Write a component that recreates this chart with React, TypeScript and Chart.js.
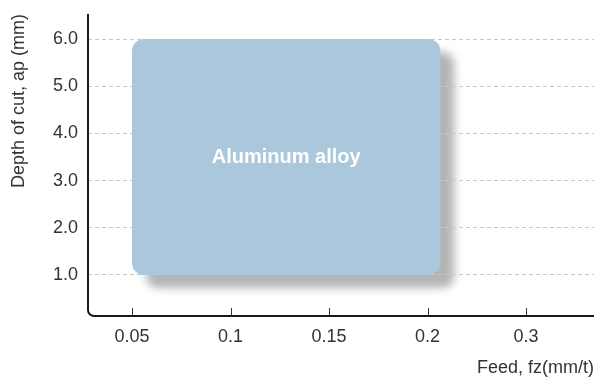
import React, { useEffect, useRef } from 'react';
import { Chart, registerables } from 'chart.js';

Chart.register(...registerables);

// ---- data ----
const feedTicks = [0.05, 0.1, 0.15, 0.2, 0.3];
const depthTicks = [1, 2, 3, 4, 5, 6];
const regionName = 'Aluminum alloy';
const regionFeed = [0.05, 0.213];
const regionDepth = [1.0, 6.0];
const xTitle = 'Feed, fz(mm/t)';
const yTitle = 'Depth of cut, ap (mm)';

const FONT = "'Liberation Sans', Arial, Helvetica, sans-serif";

// feed axis labels are evenly spaced: map a feed value onto the label index
function feedToIndex(v: number): number {
  for (let i = 0; i < feedTicks.length - 1; i++) {
    const a = feedTicks[i];
    const b = feedTicks[i + 1];
    if (v <= b || i === feedTicks.length - 2) {
      return i + (v - a) / (b - a);
    }
  }
  return 0;
}

function regionRect(chart: any) {
  const meta = chart.getDatasetMeta(0);
  const p0 = meta.data[0];
  const p1 = meta.data[1];
  const x = Math.min(p0.x, p1.x);
  const y = Math.min(p0.y, p1.y);
  return { x, y, w: Math.abs(p1.x - p0.x), h: Math.abs(p1.y - p0.y) };
}

const regionPlugin = {
  id: 'regionPlugin',
  beforeDraw(chart: any) {
    const ctx = chart.ctx;
    const r = regionRect(chart);
    ctx.save();
    ctx.filter = 'blur(4px)';
    ctx.fillStyle = '#b4b4b4';
    ctx.beginPath();
    ctx.roundRect(r.x + 14, r.y + 13, r.w, r.h, 12);
    ctx.fill();
    ctx.restore();
  },
  beforeDatasetsDraw(chart: any) {
    const ctx = chart.ctx;
    const r = regionRect(chart);
    ctx.save();
    ctx.fillStyle = '#aac7dc';
    ctx.beginPath();
    ctx.roundRect(r.x, r.y, r.w, r.h, 12);
    ctx.fill();
    ctx.fillStyle = '#ffffff';
    ctx.font = `bold 20px ${FONT}`;
    ctx.textAlign = 'center';
    ctx.textBaseline = 'middle';
    ctx.fillText(regionName, r.x + r.w / 2, r.y + r.h / 2 + 1);
    ctx.restore();
  },
  afterDraw(chart: any) {
    const ctx = chart.ctx;
    const { left, top, right, bottom } = chart.chartArea;
    const xs = chart.scales.x;
    ctx.save();
    // tick marks (pointing inward)
    ctx.strokeStyle = '#333333';
    ctx.lineWidth = 1;
    xs.ticks.forEach((t: any) => {
      const px = Math.round(xs.getPixelForValue(t.value)) + 0.5;
      ctx.beginPath();
      ctx.moveTo(px, bottom - 8);
      ctx.lineTo(px, bottom);
      ctx.stroke();
    });
    // axis lines with rounded corner
    ctx.strokeStyle = '#1a1a1a';
    ctx.lineWidth = 2;
    ctx.lineJoin = 'round';
    ctx.beginPath();
    ctx.moveTo(left, top);
    ctx.lineTo(left, bottom - 6);
    ctx.arcTo(left, bottom, left + 6, bottom, 6);
    ctx.lineTo(right, bottom);
    ctx.stroke();
    ctx.restore();
  },
};

export default function App() {
  const ref = useRef<HTMLCanvasElement | null>(null);

  useEffect(() => {
    if (!ref.current) return;
    const chart = new Chart(ref.current, {
      type: 'scatter',
      data: {
        datasets: [
          {
            label: regionName,
            data: [
              { x: feedToIndex(regionFeed[0]), y: regionDepth[0] },
              { x: feedToIndex(regionFeed[1]), y: regionDepth[1] },
            ],
            pointRadius: 0,
            pointHoverRadius: 0,
            showLine: false,
          },
        ],
      },
      options: {
        animation: false,
        responsive: false,
        devicePixelRatio: 1,
        events: [],
        layout: { padding: { top: 14, left: 0, right: 0, bottom: 0 } },
        plugins: {
          legend: { display: false },
          tooltip: { enabled: false },
        },
        scales: {
          x: {
            type: 'linear',
            min: -0.447,
            max: 4.69,
            afterBuildTicks: (s: any) => {
              s.ticks = feedTicks.map((_, i) => ({ value: i }));
            },
            afterFit: (s: any) => {
              s.height = 64;
              s.paddingLeft = 0;
              s.paddingRight = 0;
            },
            grid: { display: false, drawTicks: false },
            border: { display: false },
            ticks: {
              padding: 10,
              color: '#333333',
              font: { size: 18, family: FONT },
              callback: (v: any) => String(feedTicks[Math.round(Number(v))]),
            },
            title: {
              display: true,
              text: xTitle,
              align: 'end',
              color: '#333333',
              font: { size: 18, family: FONT },
              padding: { top: 0, bottom: 1 },
            },
          },
          y: {
            type: 'linear',
            min: 0.13,
            max: 6.53,
            afterBuildTicks: (s: any) => {
              s.ticks = depthTicks.map((v) => ({ value: v }));
            },
            afterFit: (s: any) => {
              s.width = 88;
              s.paddingTop = 0;
              s.paddingBottom = 0;
            },
            grid: { color: '#c8c8c8', lineWidth: 1, drawTicks: false },
            border: { display: false, dash: [4, 3] },
            ticks: {
              padding: 10,
              color: '#333333',
              font: { size: 18, family: FONT },
              callback: (v: any) => Number(v).toFixed(1),
            },
            title: {
              display: true,
              text: yTitle,
              align: 'end',
              color: '#333333',
              font: { size: 18, family: FONT },
              padding: { top: 8, bottom: 0 },
            },
          },
        },
      },
      plugins: [regionPlugin],
    } as any);
    return () => chart.destroy();
  }, []);

  return (
    <div style={{ position: 'absolute', left: 0, top: 0, width: 594, height: 380, background: '#fff' }}>
      <canvas ref={ref} width={594} height={380} style={{ display: 'block' }} />
    </div>
  );
}
